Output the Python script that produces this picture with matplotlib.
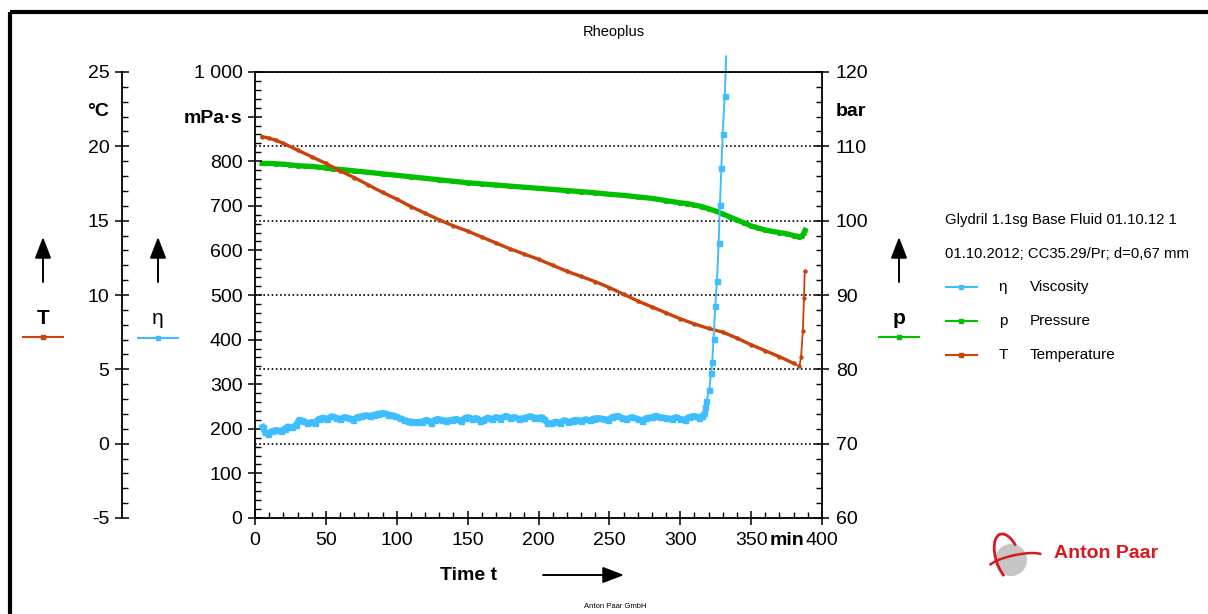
import matplotlib
matplotlib.use('Agg')
import matplotlib.pyplot as plt
from matplotlib.ticker import MultipleLocator
from matplotlib.patches import Rectangle, Arc, Circle
from matplotlib.lines import Line2D

plt.rcParams['font.family'] = ['Liberation Sans', 'DejaVu Sans']

### Data ###
visc_time = [5.4, 7, 9, 12, 15, 18, 21, 23, 26, 29, 31, 34, 37, 40, 42, 45, 48, 51, 54, 57,
             60, 63, 66, 69, 72, 75, 78, 81, 84, 87, 91, 94, 97, 99, 102, 105, 108, 110, 114, 118,
             121, 124, 127, 129, 132, 135, 139, 142, 145, 148, 150, 153, 156, 159, 161, 164, 167, 170, 173, 177,
             180, 183, 186, 190, 194, 197, 200, 202, 204, 206, 209, 212, 215, 218, 221, 224, 226, 230, 233, 236,
             239, 242, 246, 249, 252, 256, 259, 262, 266, 270, 273, 276, 280, 283, 286, 290, 294, 297, 300, 303,
             306, 310, 313, 315, 316.5, 317.5, 318.5, 320.5, 321.7, 322.6, 323.5, 324.7, 325.9, 327.1, 328.0, 329.0,
             329.9, 331.4, 332.4]
visc_eta = [204, 192, 188, 195, 197, 195, 200, 205, 203, 208, 220, 218, 212, 215, 214, 222, 225, 222, 228, 225,
            222, 226, 224, 220, 226, 228, 230, 229, 231, 234, 235, 232, 230, 228, 224, 220, 217, 216, 215, 216,
            220, 214, 220, 222, 219, 218, 220, 222, 217, 224, 226, 222, 224, 217, 220, 225, 222, 226, 223, 229,
            224, 226, 222, 224, 228, 225, 224, 226, 222, 214, 212, 216, 214, 219, 215, 218, 220, 218, 221, 219,
            223, 224, 222, 220, 226, 229, 224, 222, 226, 222, 218, 224, 226, 229, 226, 224, 222, 226, 222, 220,
            226, 229, 224, 228, 236, 250, 262, 288, 324, 350, 402, 475, 532, 617, 702, 785,
            861, 947, 1035]
N_FLAT = 104  # readings before the viscosity shoots up

pres_time = [5, 10, 15, 20, 25, 30, 35, 40, 45, 50, 55, 60, 70, 80, 90, 100, 110, 120, 130, 140,
             150, 160, 170, 180, 190, 200, 210, 220, 230, 240, 250, 260, 270, 280, 290, 300, 305, 310, 315, 320,
             325, 330, 335, 340, 345, 350, 355, 360, 365, 370, 375, 380, 384, 386, 387, 388]
pres_bar = [107.7, 107.7, 107.65, 107.6, 107.5, 107.4, 107.35, 107.3, 107.2, 107.1, 106.95, 106.9, 106.7, 106.5,
            106.3, 106.1, 105.9, 105.7, 105.5, 105.3, 105.1, 104.95, 104.8, 104.65, 104.5, 104.35, 104.2, 104.05,
            103.9, 103.75, 103.55, 103.4, 103.2, 103.0, 102.7, 102.4, 102.3, 102.1, 101.9, 101.6, 101.3, 100.9,
            100.5, 100.1, 99.7, 99.3, 99.0, 98.75, 98.55, 98.4, 98.25, 98.0, 97.85, 97.9, 98.3, 98.7]

temp_time = [5, 10, 15, 20, 30, 40, 50, 60, 70, 80, 90, 100, 110, 120, 130, 140, 150, 160, 170, 180,
             190, 200, 210, 220, 230, 240, 250, 260, 270, 280, 290, 300, 310, 320, 330, 340, 350, 360, 370, 380,
             384, 385.2, 386.5, 387.3, 387.8]
temp_C = [20.65, 20.55, 20.4, 20.2, 19.75, 19.3, 18.85, 18.35, 17.9, 17.4, 16.9, 16.45, 15.95, 15.5, 15.05,
          14.65, 14.3, 13.9, 13.5, 13.1, 12.75, 12.4, 12.0, 11.6, 11.25, 10.9, 10.5, 10.05, 9.6, 9.2, 8.8, 8.4,
          8.05, 7.75, 7.5, 7.1, 6.65, 6.25, 5.85, 5.4, 5.2, 5.8, 7.6, 9.8, 11.6]
N_TEMP_DENSE = 40  # readings before the final jump

time_ticks = [0, 50, 100, 150, 200, 250, 300, 350, 400, 375]
time_labels = ['0', '50', '100', '150', '200', '250', '300', '350', '400', 'min']
eta_ticks = [0, 100, 200, 300, 400, 500, 600, 700, 800, 900, 1000]
eta_labels = ['0', '100', '200', '300', '400', '500', '600', '700', '800', 'mPa·s', '1 000']
temp_ticks = [-5, 0, 5, 10, 15, 20, 22.5, 25]
temp_labels = ['-5', '0', '5', '10', '15', '20', '°C', '25']
pres_ticks = [60, 70, 80, 90, 100, 110, 115, 120]
pres_labels = ['60', '70', '80', '90', '100', '110', 'bar', '120']

BLUE = '#3EBEFF'
GREEN = '#00C000'
ORANGE = '#C8440C'
RED = '#D71920'

### Figure ###
W, H = 1208, 614
fig = plt.figure(figsize=(W / 100, H / 100), dpi=100)

def box(l, t, r, b):
    return [l / W, 1 - b / H, (r - l) / W, (b - t) / H]

ov = fig.add_axes([0, 0, 1, 1])
ov.set_xlim(0, W)
ov.set_ylim(H, 0)
ov.axis('off')
ov.patch.set_visible(False)

ax = fig.add_axes(box(255, 72, 822, 518))
ax_T = ax.twinx()
ax_p = ax.twinx()
ov.set_zorder(0)
ax_p.set_zorder(1)
ax_T.set_zorder(2)
ax.set_zorder(3)
ax.patch.set_visible(False)

major = dict(direction='inout', length=10, width=1.1, labelsize=14)
minor = dict(direction='in', length=4.5, width=1)

# viscosity / time axes
ax.set_xlim(0, 400)
ax.set_ylim(0, 1000)
ax.set_xticks(time_ticks, time_labels)
ax.set_yticks(eta_ticks, eta_labels)
ax.xaxis.set_minor_locator(MultipleLocator(10))
ax.yaxis.set_minor_locator(MultipleLocator(20))
ax.tick_params(axis='x', which='major', pad=5, **major)
ax.tick_params(axis='y', which='major', pad=4, **major)
ax.tick_params(which='minor', **minor)
ax.spines['right'].set_visible(False)
for s in ['left', 'bottom', 'top']:
    ax.spines[s].set_linewidth(1.3)
min_tick = ax.xaxis.get_major_ticks()[9]
min_tick.tick1line.set_visible(False)
min_tick.label1.set_fontweight('bold')
ax.yaxis.get_major_ticks()[9].label1.set_fontweight('bold')

# temperature axis
ax_T.set_ylim(-5, 25)
ax_T.yaxis.set_ticks_position('left')
ax_T.spines['left'].set_position(('axes', (122 - 255) / 567))
ax_T.spines['left'].set_visible(True)
ax_T.spines['left'].set_linewidth(1.3)
for s in ['right', 'top', 'bottom']:
    ax_T.spines[s].set_visible(False)
ax_T.set_yticks(temp_ticks, temp_labels)
ax_T.yaxis.set_minor_locator(MultipleLocator(1))
ax_T.tick_params(axis='y', which='major', pad=4, **major)
ax_T.tick_params(axis='y', which='minor', **minor)
degC = ax_T.yaxis.get_major_ticks()[6]
degC.tick1line.set_visible(False)
degC.label1.set_fontweight('bold')

# pressure axis
ax_p.set_ylim(60, 120)
for s in ['left', 'top', 'bottom']:
    ax_p.spines[s].set_visible(False)
ax_p.spines['right'].set_linewidth(1.3)
ax_p.set_yticks(pres_ticks, pres_labels)
ax_p.yaxis.set_minor_locator(MultipleLocator(2))
ax_p.tick_params(axis='y', which='major', pad=5, **major)
ax_p.tick_params(axis='y', which='minor', **minor)
ax_p.grid(axis='y', which='major', linestyle=(0, (1, 1.5)), color='black', linewidth=1.2)
bar_tick = ax_p.yaxis.get_major_ticks()[6]
bar_tick.tick2line.set_visible(False)
bar_tick.gridline.set_visible(False)
bar_tick.label2.set_fontweight('bold')

### Curves ###
ax_p.plot(pres_time, pres_bar, color=GREEN, lw=3.8, marker='^', ms=2.5)
ax_T.plot(temp_time[:N_TEMP_DENSE], temp_C[:N_TEMP_DENSE], color=ORANGE, lw=2.4)
ax_T.plot(temp_time, temp_C, color=ORANGE, lw=1.3, marker='o', ms=2.2)
ax.plot(visc_time[:N_FLAT], visc_eta[:N_FLAT], color=BLUE, lw=4.5)
ax.plot(visc_time, visc_eta, color=BLUE, lw=1.4, marker='s', ms=3.6,
        markevery=slice(0, len(visc_time) - 1), clip_on=False)

### Decorations (pixel coords) ###
ov.add_patch(Rectangle((10, 12), 1250, 700, fill=False, lw=3, ec='black', clip_on=False))
ov.text(614, 32, 'Rheoplus', ha='center', va='center', fontsize=10.5)

arrow = dict(arrowstyle='-|>,head_length=0.65,head_width=0.25', mutation_scale=20,
             color='black', lw=1.4, shrinkA=0, shrinkB=0)
for x, sym, col, bold, ly in [(43, 'T', ORANGE, 'bold', 337), (158, 'η', BLUE, 'normal', 338),
                              (899, 'p', GREEN, 'bold', 337)]:
    ov.annotate('', xy=(x, 237), xytext=(x, 282), arrowprops=arrow)
    ov.text(x, 319, sym, ha='center', va='center', fontsize=15, fontweight=bold)
    ov.add_line(Line2D([x - 20, x, x + 20], [ly, ly, ly], color=col, lw=1.5,
                       marker='s', ms=2.5, markevery=[1]))

ov.text(468, 575, 'Time t', ha='center', va='center', fontsize=14, fontweight='bold')
ov.annotate('', xy=(624, 575), xytext=(543, 575), arrowprops=arrow)

ov.text(945, 220, 'Glydril 1.1sg Base Fluid 01.10.12 1', ha='left', va='center', fontsize=10.7)
ov.text(945, 254, '01.10.2012; CC35.29/Pr; d=0,67 mm', ha='left', va='center', fontsize=10.7)
for y, col, sym, name in [(287, BLUE, 'η', 'Viscosity'), (321, GREEN, 'p', 'Pressure'),
                          (355, ORANGE, 'T', 'Temperature')]:
    ov.add_line(Line2D([946, 961, 977], [y, y, y], color=col, lw=1.5, marker='s', ms=2.5, markevery=[1]))
    ov.text(1003, y, sym, ha='center', va='center', fontsize=11)
    ov.text(1030, y, name, ha='left', va='center', fontsize=11)

ov.text(615, 607, 'Anton Paar GmbH', ha='center', va='center', fontsize=5.5)

# logo
ov.add_patch(Circle((1011, 560), 16, color='#C6C6C6', lw=0))
ov.add_patch(Arc((1008, 558), 24, 50, angle=-18, theta1=120, theta2=320, color=RED, lw=2))
ov.add_patch(Arc((1016, 562), 56, 14, angle=-12, theta1=185, theta2=355, color=RED, lw=1.8))
ov.text(1054, 553, 'Anton Paar', ha='left', va='center', fontsize=14, fontweight='bold', color=RED)

fig.savefig('out.png', dpi=100)
